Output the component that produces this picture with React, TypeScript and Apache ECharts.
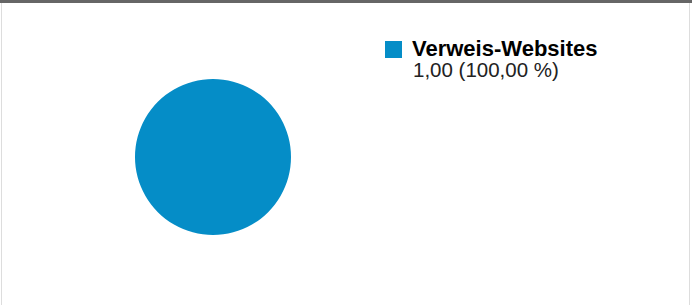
import React, { useEffect, useRef } from "react";
import * as echarts from "echarts";

const categories = ["Verweis-Websites"];
const values = [1.0];
const valueLabels = ["1,00 (100,00 %)"];

export default function App() {
  const ref = useRef<HTMLDivElement>(null);
  useEffect(() => {
    document.body.style.margin = "0";
    const chart = echarts.init(ref.current!, undefined, { renderer: "svg" });
    chart.setOption({
      animation: false,
      backgroundColor: "#ffffff",
      color: ["#058DC7"],
      legend: {
        left: 385,
        top: 37,
        padding: 0,
        orient: "vertical",
        icon: "rect",
        itemWidth: 17,
        itemHeight: 17,
        itemGap: 10,
        selectedMode: false,
        data: categories,
        formatter: (name: string) => {
          const i = categories.indexOf(name);
          return `{a|${name}}\n{b|${valueLabels[i]}}`;
        },
        textStyle: {
          fontFamily: "Liberation Sans, Arial, sans-serif",
          padding: [21, 0, 0, 5],
          rich: {
            a: {
              fontFamily: "Liberation Sans, Arial, sans-serif",
              fontSize: 22,
              lineHeight: 19,
              fontWeight: "bold",
              color: "#000000",
            },
            b: {
              fontFamily: "Liberation Sans, Arial, sans-serif",
              fontSize: 20.5,
              lineHeight: 24,
              fontWeight: "normal",
              color: "#222222",
              padding: [0, 0, 0, 1],
            },
          },
        },
      },
      graphic: [
        { type: "rect", shape: { x: 0, y: 0, width: 692, height: 3 }, style: { fill: "#666666" }, silent: true },
        { type: "rect", shape: { x: 1, y: 3, width: 1, height: 302 }, style: { fill: "#dddddd" }, silent: true },
        { type: "rect", shape: { x: 689, y: 3, width: 1, height: 302 }, style: { fill: "#dddddd" }, silent: true },
      ],
      series: [
        {
          type: "pie",
          center: [213, 157],
          radius: 78,
          label: { show: false },
          labelLine: { show: false },
          emphasis: { disabled: true },
          data: categories.map((c, i) => ({ name: c, value: values[i] })),
        },
      ],
    });
    return () => chart.dispose();
  }, []);
  return <div ref={ref} style={{ width: 692, height: 305 }} />;
}
